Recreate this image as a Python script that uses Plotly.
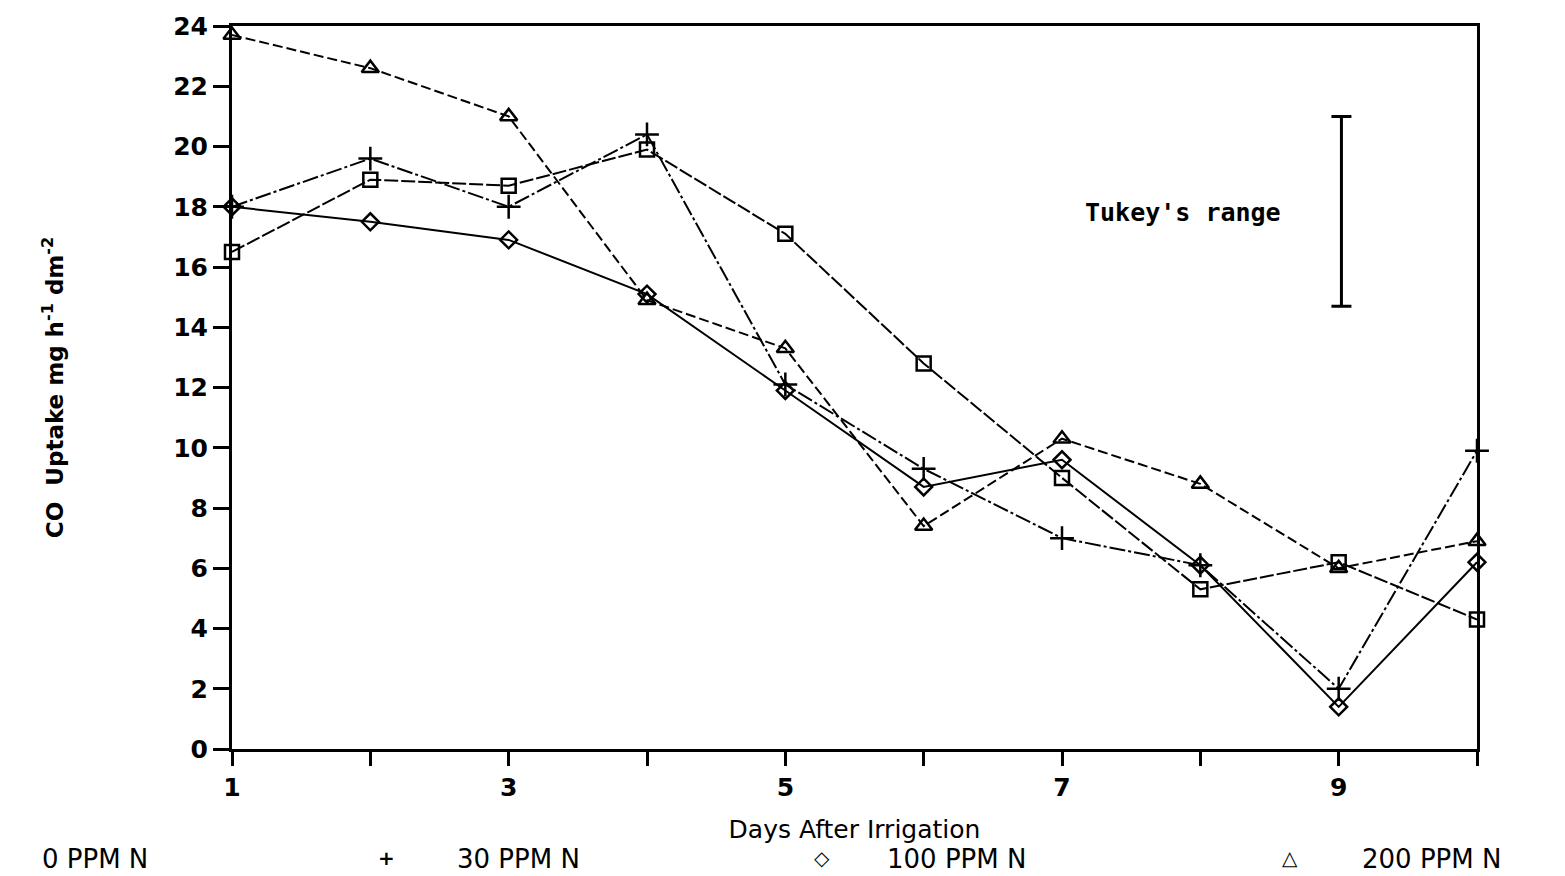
import plotly.graph_objects as go

# ---------------- data ----------------
days = [1, 2, 3, 4, 5, 6, 7, 8, 9, 10]
ppm0 = [16.5, 18.9, 18.7, 19.9, 17.1, 12.8, 9.0, 5.3, 6.2, 4.3]
ppm30 = [18.0, 19.6, 18.0, 20.4, 12.1, 9.3, 7.0, 6.1, 2.0, 9.9]
ppm100 = [18.0, 17.5, 16.9, 15.1, 11.9, 8.7, 9.6, 6.1, 1.4, 6.2]
ppm200 = [23.7, 22.6, 21.0, 14.9, 13.3, 7.4, 10.3, 8.8, 6.0, 6.9]
series_names = ["0 PPM N", "30 PPM N", "100 PPM N", "200 PPM N"]

x_tickvals = [1, 3, 5, 7, 9]
x_ticktext = ["1", "3", "5", "7", "9"]
y_tickvals = [0, 2, 4, 6, 8, 10, 12, 14, 16, 18, 20, 22, 24]

tukey_x = 9.02
tukey_top = 21.0
tukey_bottom = 14.7

# ---------------- figure ----------------
FONT = "DejaVu Sans"
fig = go.Figure()

styles = [
    (ppm0, "square-open", 14, "14px,3px"),
    (ppm30, "cross-thin-open", 17, "16px,3px,3px,3px"),
    (ppm100, "diamond-open", 13, "solid"),
    (ppm200, "triangle-up-open", 15, "10px,4px"),
]
for (vals, sym, size, dash), name in zip(styles, series_names):
    fig.add_trace(go.Scatter(
        x=days, y=vals, name=name, mode="lines+markers",
        line=dict(color="black", width=2, dash=dash),
        marker=dict(symbol=sym, size=size, color="black",
                    line=dict(color="black", width=2.5)),
        cliponaxis=False, showlegend=False,
    ))

# Tukey's range bar
fig.add_trace(go.Scatter(
    x=[tukey_x], y=[tukey_top], mode="markers",
    marker=dict(size=1, opacity=0),
    error_y=dict(type="data", symmetric=False, array=[0],
                 arrayminus=[tukey_top - tukey_bottom],
                 color="black", thickness=3, width=10),
    showlegend=False, hoverinfo="skip",
))

L, R, T, B = 232, 88, 20, 127
W, H = 1565, 876
pw, ph = W - L - R, H - T - B


def px2paper(px, py):
    return (px - L) / pw, (H - B - py) / ph


annotations = []
ax, ay = px2paper(1183, 208)
annotations.append(dict(x=ax, y=ay, xref="paper", yref="paper", text="<b>Tukey's range</b>",
                        showarrow=False, font=dict(family="DejaVu Sans Mono", size=25, color="black"),
                        xanchor="center", yanchor="middle"))

legend_items = [
    (40, None, series_names[0]),
    (455, (386, "+"), series_names[1]),
    (885, (822, "◇"), series_names[2]),
    (1360, (1290, "△"), series_names[3]),
]
for tx, symb, label in legend_items:
    lx, ly = px2paper(tx, 860)
    annotations.append(dict(x=lx, y=ly, xref="paper", yref="paper", text=label,
                            showarrow=False, font=dict(family=FONT, size=26, color="black"),
                            xanchor="left", yanchor="middle"))
    if symb:
        sx, sy = px2paper(symb[0], 859)
        annotations.append(dict(x=sx, y=sy, xref="paper", yref="paper", text="<b>" + symb[1] + "</b>",
                                showarrow=False, font=dict(family=FONT, size=20, color="black"),
                                xanchor="center", yanchor="middle"))

fig.update_layout(
    width=W, height=H,
    margin=dict(l=L, r=R, t=T, b=B),
    paper_bgcolor="white", plot_bgcolor="white",
    showlegend=False,
    font=dict(family=FONT, color="black"),
    annotations=annotations,
    xaxis=dict(
        range=[1, 10], tickvals=x_tickvals, ticktext=x_ticktext,
        ticks="outside", ticklen=14, tickwidth=3, tickcolor="black",
        minor=dict(dtick=1, tick0=1, ticks="outside", ticklen=14, tickwidth=3,
                   tickcolor="black", showgrid=False),
        showline=True, linecolor="black", linewidth=3, mirror=True,
        showgrid=False, zeroline=False,
        tickfont=dict(family=FONT, size=25, color="black", weight="bold"),
        title=dict(text="Days After Irrigation", standoff=20,
                   font=dict(family=FONT, size=25, color="black")),
    ),
    yaxis=dict(
        range=[0, 24], tickvals=y_tickvals,
        ticks="outside", ticklen=16, tickwidth=3, tickcolor="black",
        showline=True, linecolor="black", linewidth=3, mirror=True,
        showgrid=False, zeroline=False,
        tickfont=dict(family=FONT, size=25, color="black", weight="bold"),
        title=dict(text="CO  Uptake mg h<sup>-1</sup> dm<sup>-2</sup>", standoff=104,
                   font=dict(family=FONT, size=23, color="black", weight="bold")),
    ),
)

fig.write_html("out.html")
